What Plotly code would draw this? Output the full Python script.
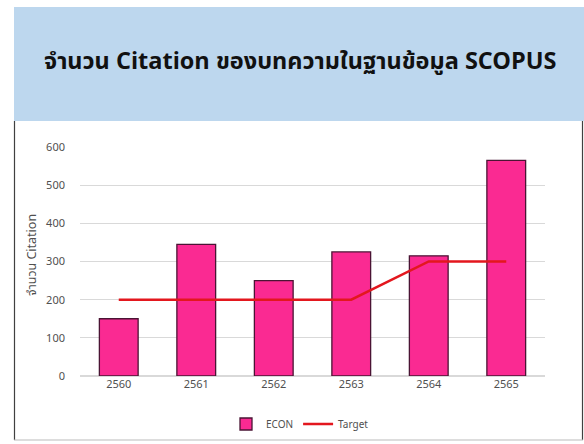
import plotly.graph_objects as go

years = ["2560", "2561", "2562", "2563", "2564", "2565"]
econ = [150, 345, 250, 325, 315, 565]
target = [200, 200, 200, 200, 300, 300]
title_text = "จำนวน Citation ของบทความในฐานข้อมูล SCOPUS"
y_title = "จำนวน Citation"

W, H = 584, 444
L, R, T, B = 80, 39, 147, 68
pw, ph = W - L - R, H - T - B

def px(x):
    return (x - L) / pw

def py(y):
    return (H - B - y) / ph

FONT = "Noto Sans Thai, Noto Sans, DejaVu Sans, sans-serif"
TXT = "#505050"

fig = go.Figure()
fig.add_trace(go.Bar(
    x=years, y=econ, name="ECON", width=0.5,
    marker=dict(color="#FA2A92", line=dict(color="#4A1434", width=1.3)),
))
fig.add_trace(go.Scatter(
    x=years, y=target, name="Target", mode="lines",
    line=dict(color="#E3171E", width=2.5),
))

fig.update_layout(
    width=W, height=H,
    margin=dict(l=L, r=R, t=T, b=B, autoexpand=False),
    paper_bgcolor="white", plot_bgcolor="white",
    font=dict(family=FONT, size=11, color=TXT),
    showlegend=True,
    legend=dict(orientation="h", x=px(300), xanchor="center", y=py(424), yanchor="middle",
                font=dict(size=10, color=TXT), tracegroupgap=0),
    shapes=[
        dict(type="rect", xref="paper", yref="paper", x0=px(14), x1=px(584), y0=py(121), y1=py(7),
             fillcolor="#BDD7EE", line=dict(width=0), layer="below"),
        dict(type="line", xref="paper", yref="paper", x0=px(14.5), x1=px(14.5), y0=py(121), y1=py(440),
             line=dict(color="#404040", width=1.2)),
        dict(type="line", xref="paper", yref="paper", x0=px(582.5), x1=px(582.5), y0=py(121), y1=py(440),
             line=dict(color="#404040", width=1.2)),
        dict(type="line", xref="paper", yref="paper", x0=px(14), x1=px(583), y0=py(440), y1=py(440),
             line=dict(color="#BBBBBB", width=1)),
    ],
    annotations=[
        dict(text=title_text, xref="paper", yref="paper", x=px(300), y=py(62),
             xanchor="center", yanchor="middle", showarrow=False,
             font=dict(size=23.5, color="#111111", family=FONT, weight="bold")),
        dict(text=y_title, xref="paper", yref="paper", x=px(32), y=py(255),
             xanchor="center", yanchor="middle", showarrow=False, textangle=-90,
             font=dict(size=12.5, color=TXT)),
    ],
)
fig.update_xaxes(showline=False, ticks="", tickfont=dict(size=11, color=TXT))
fig.update_yaxes(range=[0, 600], dtick=100, gridcolor="#D9D9D9", gridwidth=1,
                 zeroline=True, zerolinecolor="#D9D9D9", showline=False,
                 tickfont=dict(size=11, color=TXT), ticklabelstandoff=14)

fig.write_html("out.html", config={"displayModeBar": False},
               post_script="document.body.style.margin='0';document.body.style.overflow='hidden';")
